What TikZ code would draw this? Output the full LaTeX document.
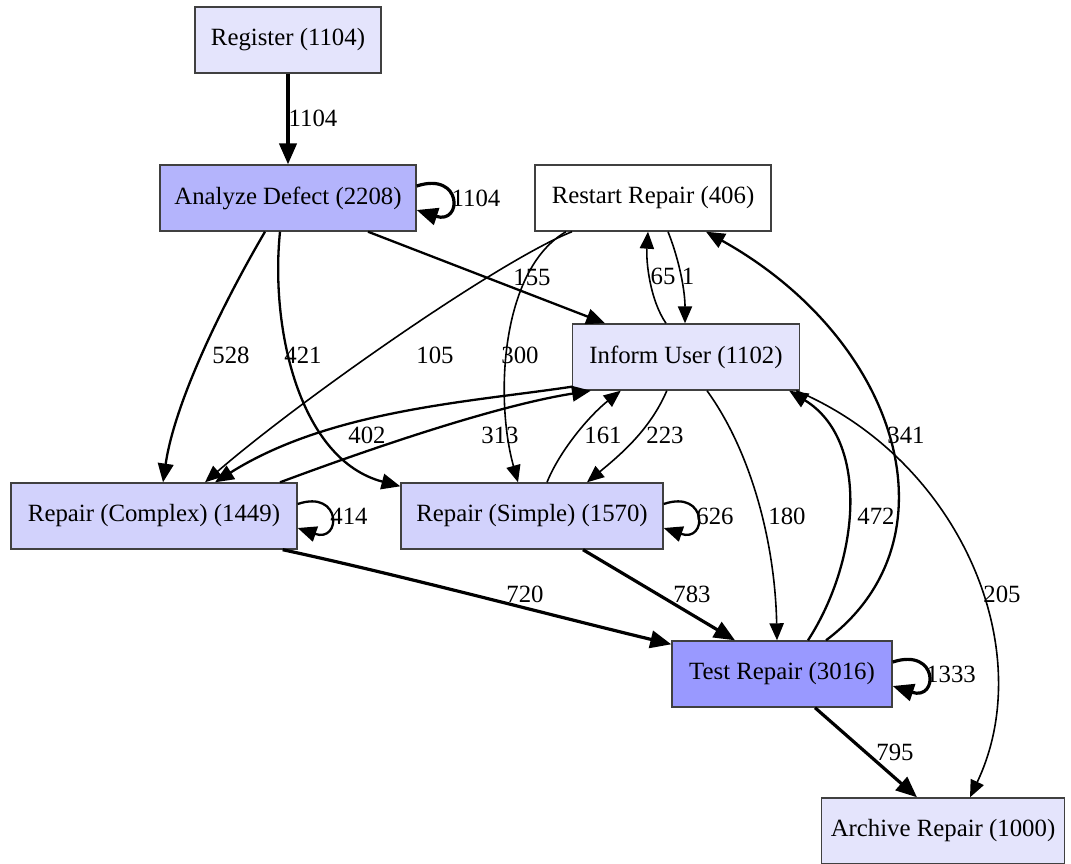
\documentclass[tikz,border=0pt]{standalone}
\usepackage{fontspec}
\setmainfont{Liberation Serif}
\usetikzlibrary{arrows.meta}
\definecolor{pale}{RGB}{228,228,252}
\definecolor{soft}{RGB}{210,210,252}
\definecolor{deep}{RGB}{180,180,252}
\definecolor{hot}{RGB}{153,153,255}

\begin{document}
\begin{tikzpicture}[x=1pt,y=-1pt,font=\fontsize{24.8}{28}\selectfont, >={Triangle[length=13pt 2.5,width=11pt 2]}]
      \tikzstyle{act}=[rectangle,draw=black!75,line width=1.4pt,minimum height=66pt,inner sep=0pt]
      \tikzstyle{lightedge}=[->,line width=1.6pt]
      \tikzstyle{midedge}=[->,line width=2.3pt]
      \tikzstyle{heavyedge}=[->,line width=3.2pt]
      \tikzstyle{cnt}=[inner sep=0pt]

      \useasboundingbox (0,0) rectangle (1071,863);

      \node(reg)[act,fill=pale,minimum width=186pt] at (288,40) {Register (1104)};
      \node(ana)[act,fill=deep,minimum width=256pt] at (288,198) {Analyze Defect (2208)};
      \node(rst)[act,fill=white,minimum width=236pt] at (653,198) {Restart Repair (406)};
      \node(inf)[act,fill=pale,minimum width=227pt] at (686,357) {Inform User (1102)};
      \node(cpx)[act,fill=soft,minimum width=286pt] at (154,516) {Repair (Complex) (1449)};
      \node(smp)[act,fill=soft,minimum width=262pt] at (532,516) {Repair (Simple) (1570)};
      \node(tst)[act,fill=hot,minimum width=220pt] at (782,674) {Test Repair (3016)};
      \node(arc)[act,fill=pale,minimum width=243pt] at (943,831) {Archive Repair (1000)};

      % from register and analyze
      \draw[heavyedge] (reg) -- (ana) node[cnt] at (313,118) {1104};
      \draw[heavyedge] ([yshift=12pt]ana.east) .. controls +(46,-15) and +(46,15) .. ([yshift=-12pt]ana.east)
          node[cnt] at (476,198) {1104};
      \draw[midedge] ([xshift=-23pt]ana.south) .. controls (225,300) and (175,400) .. ([xshift=9pt]cpx.north)
          node[cnt] at (231,355) {528};
      \draw[midedge] ([xshift=-8pt]ana.south) .. controls (270,330) and (300,460) .. ([yshift=-4pt]smp.north west)
          node[cnt] at (303,355) {421};
      \draw[midedge] ([xshift=80pt]ana.south) -- ([xshift=-81pt]inf.north) node[cnt] at (532,277) {155};

      % restart repair
      \draw[lightedge] ([xshift=-81pt]rst.south) .. controls (500,260) and (300,400) .. ([xshift=51pt]cpx.north)
          node[cnt] at (435,355) {105};
      \draw[lightedge] ([xshift=-87pt]rst.south) .. controls (500,270) and (495,400) .. ([xshift=-14pt]smp.north)
          node[cnt] at (520,355) {300};
      \draw[lightedge] ([xshift=-20pt]inf.north) .. controls (650,300) and (646,262) .. ([xshift=-5pt]rst.south)
          node[cnt] at (663,276) {65};
      \draw[lightedge] ([xshift=15pt]rst.south) .. controls (680,262) and (685,292) .. ([xshift=-1pt]inf.north)
          node[cnt] at (688,276) {1};

      % inform user
      \draw[midedge] ([yshift=4pt]inf.south west) .. controls (470,402) and (330,410) .. ([xshift=61pt]cpx.north)
          node[cnt] at (367,435) {402};
      \draw[midedge] ([xshift=126pt]cpx.north) .. controls (380,445) and (500,405) .. ([xshift=19pt]inf.south west)
          node[cnt] at (500,435) {313};
      \draw[lightedge] ([xshift=15pt]smp.north) .. controls (560,450) and (590,415) .. ([xshift=49pt]inf.south west)
          node[cnt] at (603,435) {161};
      \draw[lightedge] ([xshift=95pt]inf.south west) .. controls (650,430) and (620,455) .. ([xshift=55pt]smp.north)
          node[cnt] at (665,435) {223};
      \draw[lightedge] ([xshift=21pt]inf.south) .. controls (750,450) and (775,540) .. ([xshift=-5pt]tst.north)
          node[cnt] at (787,516) {180};
      \draw[midedge] ([xshift=26pt]tst.north) .. controls (860,560) and (870,440) .. ([xshift=-11pt]inf.south east)
          node[cnt] at (876,516) {472};
      \draw[midedge] ([xshift=44pt]tst.north) .. controls (960,540) and (900,340) .. ([xshift=53pt]rst.south)
          node[cnt] at (906,435) {341};
      \draw[lightedge] ([xshift=-4pt]inf.south east) .. controls (960,460) and (1040,650) .. ([xshift=27pt]arc.north)
          node[cnt] at (1002,594) {205};

      % repairs and test
      \draw[midedge] ([yshift=12pt]cpx.east) .. controls +(44,-15) and +(44,15) .. ([yshift=-12pt]cpx.east)
          node[cnt] at (349,516) {414};
      \draw[midedge] ([yshift=12pt]smp.east) .. controls +(44,-15) and +(44,15) .. ([yshift=-12pt]smp.east)
          node[cnt] at (715,516) {626};
      \draw[heavyedge] ([xshift=-15pt]cpx.south east) .. controls (400,575) and (550,615) .. ([yshift=-4pt]tst.north west)
          node[cnt] at (525,594) {720};
      \draw[heavyedge] ([xshift=51pt]smp.south) -- ([xshift=-47pt]tst.north) node[cnt] at (692,594) {783};
      \draw[heavyedge] ([yshift=12pt]tst.east) .. controls +(46,-15) and +(46,15) .. ([yshift=-12pt]tst.east)
          node[cnt] at (951,674) {1333};
      \draw[heavyedge] ([xshift=33pt]tst.south) -- ([xshift=-26pt]arc.north) node[cnt] at (895,752) {795};
\end{tikzpicture}
\end{document}
